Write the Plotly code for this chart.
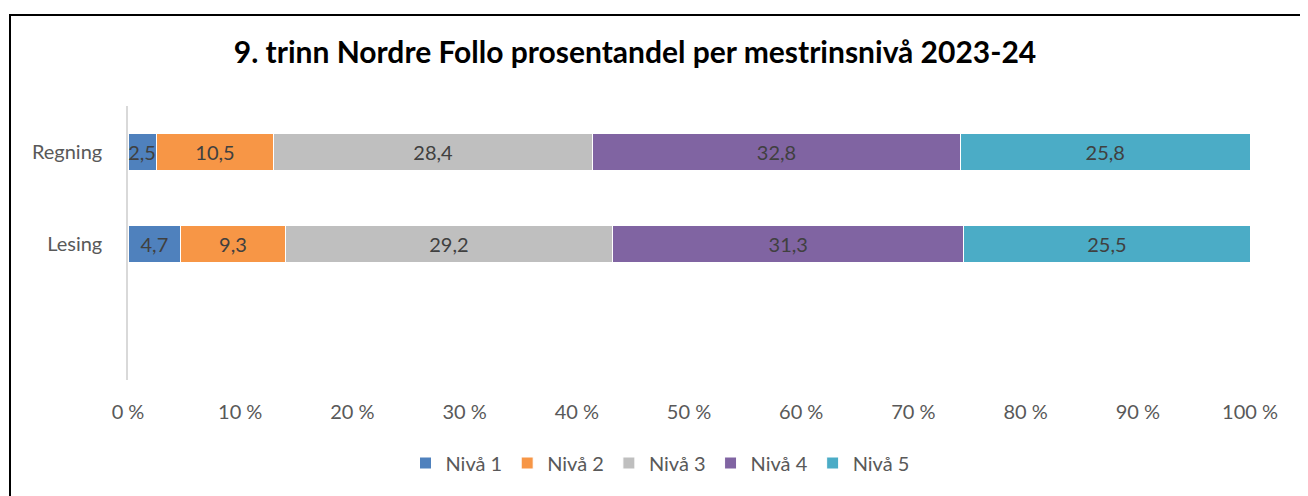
import plotly.graph_objects as go

# data
fag = ["Lesing", "Regning"]
nivaa = ["Nivå 1", "Nivå 2", "Nivå 3", "Nivå 4", "Nivå 5"]
verdier = {
    "Nivå 1": [4.7, 2.5],
    "Nivå 2": [9.3, 10.5],
    "Nivå 3": [29.2, 28.4],
    "Nivå 4": [31.3, 32.8],
    "Nivå 5": [25.5, 25.8],
}
farger = ["#4F81BD", "#F79646", "#BFBFBF", "#8064A2", "#4BACC6"]
xticks = [0, 10, 20, 30, 40, 50, 60, 70, 80, 90, 100]
xtick_tekst = [f"{v} %" for v in xticks]

FONT = "Lato, 'Open Sans', sans-serif"

# the page body adds ~8px margin, so the figure is 8px smaller than the window
W, H = 1300, 488

fig = go.Figure()
for navn, farge in zip(nivaa, farger):
    fig.add_trace(go.Bar(
        y=fag,
        x=verdier[navn],
        name=navn,
        orientation="h",
        marker=dict(color=farge, line=dict(color="white", width=1)),
        texttemplate="%{x:.1f}",
        textposition="inside",
        insidetextanchor="middle",
        textangle=0,
        constraintext="none",
        textfont=dict(color="#404040", size=20, family=FONT),
        hoverinfo="x+name",
    ))

fig.update_layout(
    barmode="stack",
    bargap=0.605,
    separators=", ",
    width=W,
    height=H,
    margin=dict(l=120, r=58, t=98, b=116),
    paper_bgcolor="white",
    plot_bgcolor="white",
    font=dict(family=FONT, color="#595959", size=20),
    uniformtext=dict(minsize=20, mode="show"),
    title=dict(
        text="<b>9. trinn Nordre Follo prosentandel per mestrinsnivå 2023-24</b>",
        font=dict(size=30, color="black", family=FONT),
        x=627 / W, xanchor="center",
        y=1 - 44 / H, yanchor="middle",
    ),
    xaxis=dict(
        range=[0, 100],
        tickvals=xticks,
        ticktext=xtick_tekst,
        showgrid=False,
        zeroline=False,
        showline=False,
        ticklabelstandoff=18,
        tickfont=dict(size=20, color="#595959"),
        fixedrange=True,
    ),
    yaxis=dict(
        type="category",
        categoryorder="array",
        categoryarray=fag,
        range=[-1.478, 1.5],
        showgrid=False,
        zeroline=False,
        showline=True,
        linecolor="#D9D9D9",
        linewidth=1.5,
        ticklabelstandoff=20,
        tickfont=dict(size=20, color="#595959"),
        fixedrange=True,
    ),
    legend=dict(
        orientation="h",
        x=(660 - 128) / 1122, xanchor="center",
        y=(380 - 463) / 274, yanchor="middle",
        font=dict(size=20, color="#595959"),
        traceorder="normal",
        itemwidth=30,
    ),
    shapes=[dict(
        type="rect", xref="paper", yref="paper",
        x0=(10 - 128) / 1122, x1=(1330 - 128) / 1122,
        y0=(380 - 520) / 274, y1=(380 - 15) / 274,
        line=dict(color="black", width=2),
        fillcolor="rgba(0,0,0,0)",
        layer="below",
    )],
)

fig.write_html("out.html")
